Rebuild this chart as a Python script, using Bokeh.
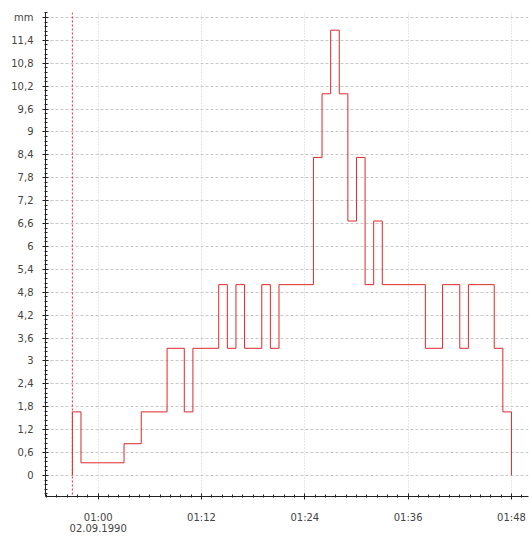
import numpy as np
from bokeh.plotting import figure
from bokeh.models import FixedTicker, Span, Range1d
from bokeh.embed import file_html
from bokeh.resources import INLINE

# --- data -------------------------------------------------------------
step_times = ["00:57", "00:58", "01:03", "01:05", "01:08", "01:10", "01:11",
              "01:14", "01:15", "01:16", "01:17", "01:19", "01:20", "01:21",
              "01:25", "01:26", "01:27", "01:28", "01:29", "01:30", "01:31",
              "01:32", "01:33", "01:38", "01:40", "01:42", "01:43", "01:46",
              "01:47", "01:48"]
step_values = [1.667, 0.333, 0.833, 1.667, 3.333, 1.667, 3.333,
               5.0, 3.333, 5.0, 3.333, 5.0, 3.333, 5.0,
               8.333, 10.0, 11.667, 10.0, 6.667, 8.333, 5.0,
               6.667, 5.0, 3.333, 5.0, 3.333, 5.0, 3.333,
               1.667, 0.0]
baseline = 0.0
marker_time = "00:57"

y_ticks = [0, 0.6, 1.2, 1.8, 2.4, 3, 3.6, 4.2, 4.8, 5.4, 6, 6.6, 7.2, 7.8,
           8.4, 9, 9.6, 10.2, 10.8, 11.4, 12]
y_tick_labels = ["0", "0,6", "1,2", "1,8", "2,4", "3", "3,6", "4,2", "4,8",
                 "5,4", "6", "6,6", "7,2", "7,8", "8,4", "9", "9,6", "10,2",
                 "10,8", "11,4", "mm"]
x_tick_times = ["01:00", "01:12", "01:24", "01:36", "01:48"]
x_tick_labels = ["01:00\n02.09.1990", "01:12", "01:24", "01:36", "01:48"]


def to_min(t):
    h, m = t.split(":")
    return int(h) * 60 + int(m)


xs = [to_min(step_times[0])] + [to_min(t) for t in step_times]
ys = [baseline] + list(step_values)

# --- figure -----------------------------------------------------------
p = figure(width=529, height=536, output_backend="svg", toolbar_location=None,
           x_range=Range1d(53.88, 109.98), y_range=Range1d(-0.55, 12.13),
           min_border_left=45, min_border_right=1, min_border_top=12,
           min_border_bottom=39)
p.outline_line_color = None
p.background_fill_color = "white"
p.border_fill_color = "white"

red = "#dd2a2a"
p.step(xs, ys, mode="after", line_color=red, line_width=1)

p.add_layout(Span(location=to_min(marker_time), dimension="height",
                  line_color=red, line_width=1, line_dash="2 2"))

# axes
x_major = [to_min(t) for t in x_tick_times]
x_minor = [round(v, 2) for v in np.arange(x_major[0] - 6 * 1.2, 110, 1.2)]
p.xaxis.ticker = FixedTicker(ticks=x_major, minor_ticks=x_minor)
p.xaxis.major_label_overrides = {k: v for k, v in zip(x_major, x_tick_labels)}

y_minor = [round(v, 2) for v in np.arange(-0.48, 12.13, 0.12)]
p.yaxis.ticker = FixedTicker(ticks=y_ticks, minor_ticks=y_minor)
p.yaxis.major_label_overrides = {k: v for k, v in zip(y_ticks, y_tick_labels)}

for ax in (p.xaxis[0], p.yaxis[0]):
    ax.axis_line_color = "#222222"
    ax.major_tick_line_color = "#222222"
    ax.minor_tick_line_color = "#222222"
    ax.major_tick_in = 3
    ax.major_tick_out = 3
    ax.minor_tick_in = 2
    ax.minor_tick_out = 1
    ax.major_label_text_font = "DejaVu Sans"
    ax.major_label_text_font_size = "10px"
    ax.major_label_text_color = "#444444"

p.xaxis.major_label_standoff = 12
p.xaxis.major_label_text_line_height = 1.0
p.yaxis.major_label_standoff = 9
p.yaxis.major_label_text_align = "center"

# grid
p.ygrid.grid_line_color = "#c8c8c8"
p.ygrid.grid_line_dash = "3 2"
p.xgrid.grid_line_color = "#cccccc"
p.xgrid.grid_line_dash = "1 2"

open("out.html", "w").write(file_html(p, INLINE))
